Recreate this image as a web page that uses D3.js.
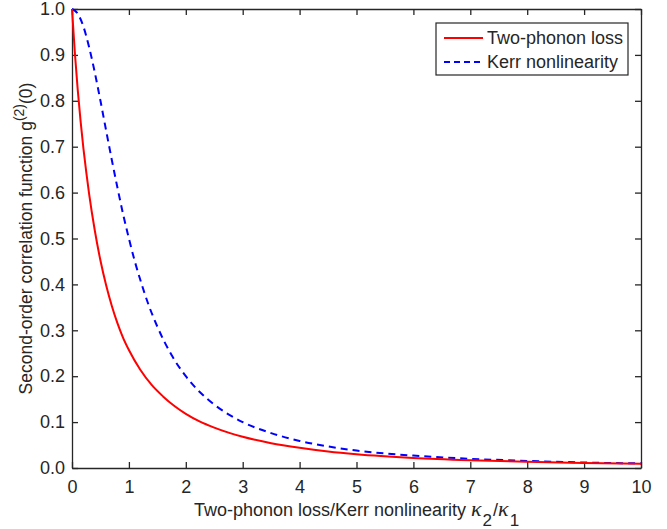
<!DOCTYPE html>
<html>
<head>
<meta charset="utf-8">
<script src="https://cdn.jsdelivr.net/npm/d3@7"></script>
<style>
  body { margin: 0; background: #fff; }
  text { font-family: "Liberation Sans", Arial, sans-serif; fill: #262626; }
</style>
</head>
<body>
<script>
// Valores (g2(0) vs kappa2/kappa1)
const xLoss = [0, 0.05, 0.1, 0.15, 0.2, 0.25, 0.3, 0.4, 0.5, 0.6, 0.7, 0.8, 0.9, 1.0, 1.2, 1.4, 1.6, 1.8, 2.0, 2.25, 2.5, 2.75, 3, 3.5, 4, 4.5, 5, 6, 7, 8, 9, 10];
const yLoss = [1.0, 0.905, 0.825, 0.757, 0.697, 0.645, 0.598, 0.518, 0.452, 0.398, 0.353, 0.315, 0.283, 0.257, 0.214, 0.181, 0.156, 0.135, 0.118, 0.101, 0.088, 0.077, 0.068, 0.054, 0.044, 0.036, 0.030, 0.022, 0.017, 0.0135, 0.011, 0.009];

const xKerr = [0, 0.1, 0.2, 0.3, 0.4, 0.5, 0.6, 0.7, 0.8, 0.9, 1.0, 1.1, 1.2, 1.35, 1.5, 1.75, 2, 2.25, 2.5, 2.75, 3, 3.5, 4, 4.5, 5, 6, 7, 8, 9, 10];
const yKerr = [1.0, 0.99, 0.962, 0.917, 0.862, 0.80, 0.735, 0.671, 0.61, 0.552, 0.50, 0.452, 0.41, 0.354, 0.308, 0.246, 0.20, 0.165, 0.138, 0.117, 0.10, 0.076, 0.059, 0.047, 0.038, 0.027, 0.02, 0.0155, 0.012, 0.0099];

const xTicks = [0, 1, 2, 3, 4, 5, 6, 7, 8, 9, 10];
const yTicks = [0, 0.1, 0.2, 0.3, 0.4, 0.5, 0.6, 0.7, 0.8, 0.9, 1.0];
const seriesNames = ["Two-phonon loss", "Kerr nonlinearity"];

const WIDTH = 667;
const HEIGHT = 529;
const MARGIN = { top: 9, bottom: 61, left: 72, right: 26 };
const WIDTHVIS = WIDTH - MARGIN.left - MARGIN.right;
const HEIGHTVIS = HEIGHT - MARGIN.top - MARGIN.bottom;
const FONT = 18;
const AXIS_COLOR = "#262626";

const svg = d3.select("body")
  .append("svg")
  .attr("width", WIDTH)
  .attr("height", HEIGHT);

const escalaX = d3.scaleLinear().domain([0, 10]).range([0, WIDTHVIS]);
const escalaY = d3.scaleLinear().domain([0, 1]).range([HEIGHTVIS, 0]);

const vis = svg.append("g")
  .attr("transform", `translate(${MARGIN.left}, ${MARGIN.top})`);

// Ejes con ticks hacia adentro, estilo MATLAB
const ejeX = d3.axisBottom(escalaX).tickValues(xTicks).tickFormat(d3.format("d"))
  .tickSizeInner(-6).tickSizeOuter(0).tickPadding(12);
const ejeY = d3.axisLeft(escalaY).tickValues(yTicks).tickFormat(d3.format(".1f"))
  .tickSizeInner(-6).tickSizeOuter(0).tickPadding(7);
const ejeTop = d3.axisTop(escalaX).tickValues(xTicks).tickFormat("")
  .tickSizeInner(-6).tickSizeOuter(0);
const ejeRight = d3.axisRight(escalaY).tickValues(yTicks).tickFormat("")
  .tickSizeInner(-6).tickSizeOuter(0);

const gx = vis.append("g").attr("transform", `translate(0, ${HEIGHTVIS})`).call(ejeX);
const gy = vis.append("g").call(ejeY);
const gt = vis.append("g").call(ejeTop);
const gr = vis.append("g").attr("transform", `translate(${WIDTHVIS}, 0)`).call(ejeRight);

[gx, gy, gt, gr].forEach(g => {
  g.selectAll("path, line").attr("stroke", AXIS_COLOR).attr("stroke-width", 1.3);
  g.selectAll("text").attr("font-size", FONT).attr("fill", AXIS_COLOR)
    .attr("font-family", "Liberation Sans, Arial, sans-serif");
});

// Curvas
const linea = d3.line()
  .x(d => escalaX(d[0]))
  .y(d => escalaY(d[1]))
  .curve(d3.curveMonotoneX);

vis.append("path")
  .datum(d3.zip(xKerr, yKerr))
  .attr("fill", "none")
  .attr("stroke", "#0000ff")
  .attr("stroke-width", 2)
  .attr("stroke-dasharray", "7,5")
  .attr("d", linea);

vis.append("path")
  .datum(d3.zip(xLoss, yLoss))
  .attr("fill", "none")
  .attr("stroke", "#ff0000")
  .attr("stroke-width", 2)
  .attr("d", linea);

// Leyenda
const leyenda = svg.append("g").attr("transform", "translate(436, 23)");
leyenda.append("rect")
  .attr("width", 192).attr("height", 52)
  .attr("fill", "#fff").attr("stroke", AXIS_COLOR).attr("stroke-width", 1.2);

const estilos = [
  { color: "#ff0000", dash: null },
  { color: "#0000ff", dash: "6,4" }
];
seriesNames.forEach((nombre, i) => {
  const y = 15 + i * 24;
  leyenda.append("line")
    .attr("x1", 8).attr("x2", 47).attr("y1", y).attr("y2", y)
    .attr("stroke", estilos[i].color).attr("stroke-width", 2)
    .attr("stroke-dasharray", estilos[i].dash);
  leyenda.append("text")
    .attr("x", 51).attr("y", y).attr("dy", "0.35em")
    .attr("font-size", FONT)
    .text(nombre);
});

// Etiqueta eje X
const xLabel = svg.append("text")
  .attr("x", MARGIN.left + WIDTHVIS / 2)
  .attr("y", 516)
  .attr("text-anchor", "middle")
  .attr("font-size", FONT);
xLabel.append("tspan").text("Two-phonon loss/Kerr nonlinearity ");
xLabel.append("tspan").attr("font-family", "Liberation Serif, serif").attr("font-style", "italic")
  .attr("font-size", 22).text("κ");
xLabel.append("tspan").attr("dy", 10).attr("dx", 1).attr("font-size", 17).text("2");
xLabel.append("tspan").attr("dy", -10).attr("dx", 1).text("/");
xLabel.append("tspan").attr("font-family", "Liberation Serif, serif").attr("font-style", "italic")
  .attr("font-size", 22).text("κ");
xLabel.append("tspan").attr("dy", 10).attr("dx", 1).attr("font-size", 17).text("1");

// Etiqueta eje Y
const yLabel = svg.append("text")
  .attr("transform", `translate(32, ${MARGIN.top + HEIGHTVIS / 2}) rotate(-90)`)
  .attr("text-anchor", "middle")
  .attr("font-size", 17.5);
yLabel.append("tspan").text("Second-order correlation function g");
yLabel.append("tspan").attr("dy", -8).attr("font-size", 14).text("(2)");
yLabel.append("tspan").attr("dy", 8).text("(0)");
</script>
</body>
</html>
